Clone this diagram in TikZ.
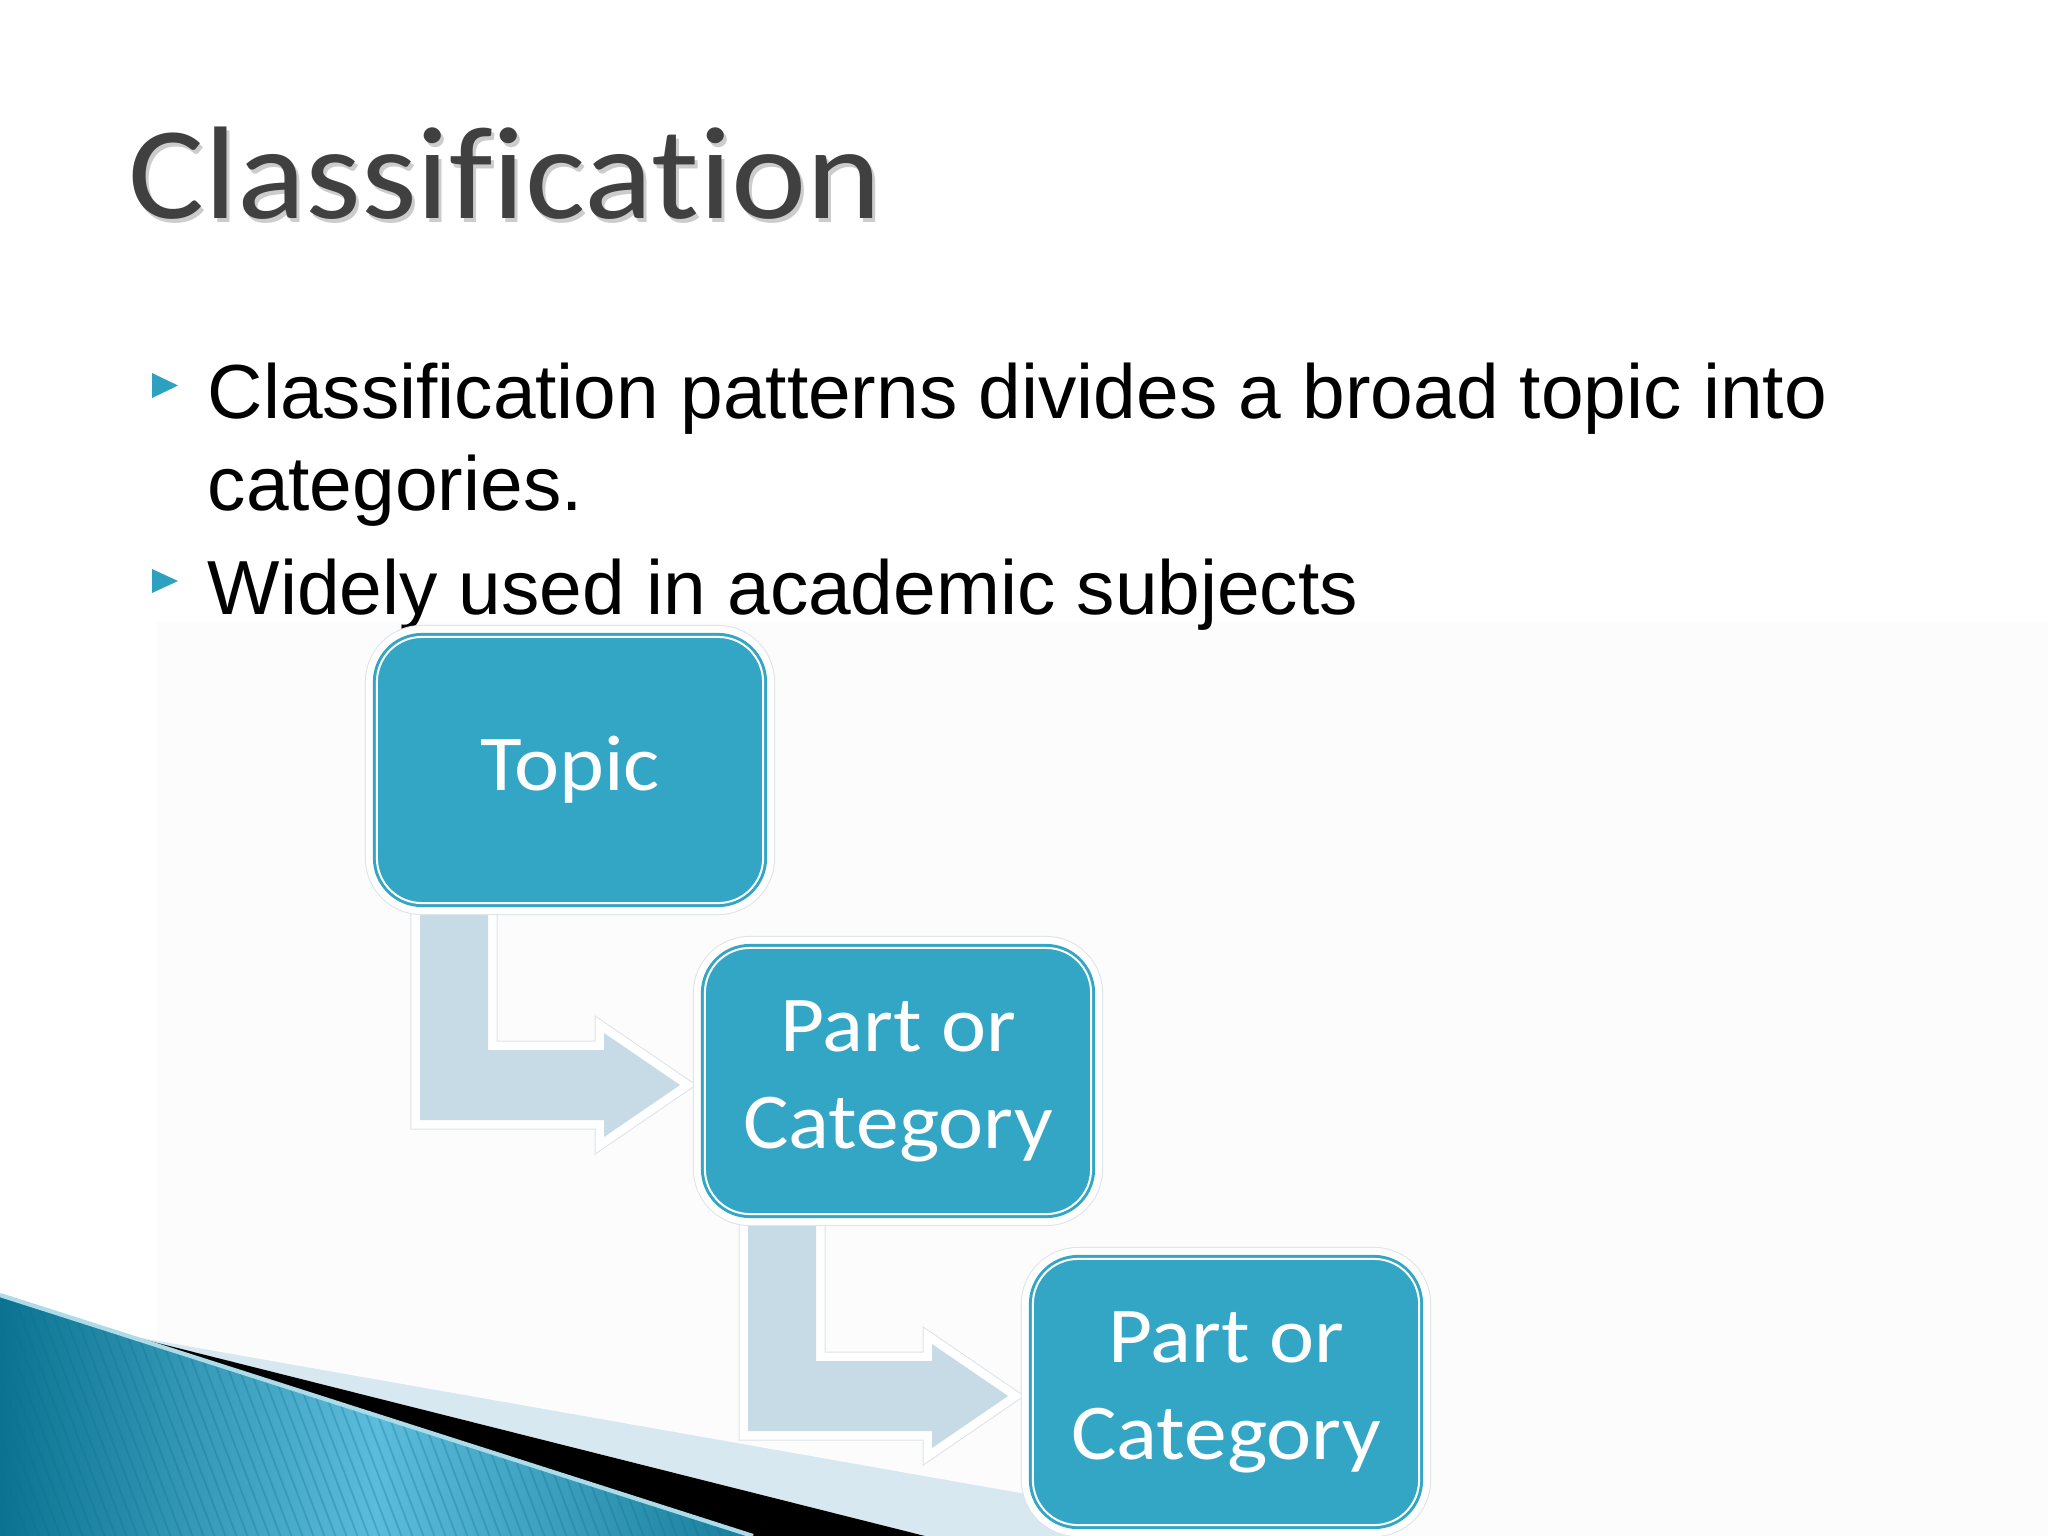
\documentclass[tikz,border=0pt]{standalone}
\usepackage{fontspec}
\setmainfont{Liberation Sans}
\newfontfamily\headfont[FakeStretch=1.08, Ligatures=NoCommon]{Carlito}
\usepackage{tikz}

\definecolor{boxteal}{HTML}{33A6C5}
\definecolor{arrowblue}{HTML}{C6DBE5}
\definecolor{halogray}{HTML}{DDE3E6}
\definecolor{bulletteal}{HTML}{2EA0C0}
\definecolor{titlegray}{HTML}{404040}
\definecolor{bandblue}{HTML}{D7E8F0}
\definecolor{panelgray}{HTML}{FCFCFD}
\definecolor{tealdark}{HTML}{0B7391}
\definecolor{teallight}{HTML}{5CBCDB}

\tikzset{
	catbox/.style={shape=rectangle, rounded corners=0.45cm, fill=boxteal, draw=white,
		line width=0.02cm, minimum width=3.86cm, minimum height=2.66cm, inner sep=0pt,
		align=center, text=white, font=\headfont\fontsize{22.5}{27.6}\selectfont,
		preaction={draw=halogray, line width=0.24cm},
		preaction={draw=white, line width=0.22cm},
		preaction={draw=boxteal, line width=0.08cm}},
	arrowshape/.style={fill=arrowblue,
		preaction={draw=halogray, line width=0.19cm},
		preaction={draw=white, line width=0.17cm}},
	bullettext/.style={anchor=base west, inner sep=0pt, font=\fontsize{21.8}{26}\selectfont}
}

\begin{document}
\begin{tikzpicture}[x=0.01cm, y=-0.01cm]
	\useasboundingbox (0,0) rectangle (2048,1536);
	\fill[white] (0,0) rectangle (2048,1536);
	\fill[panelgray] (157,622) rectangle (2048,1536);

	% bottom left corner
	\fill[bandblue] (130,1336) -- (1264,1536) -- (925,1536) -- cycle;
	\fill[black] (126,1335) -- (925,1536) -- (753,1536) -- cycle;
	\shade[left color=tealdark, right color=tealdark!85!teallight, middle color=teallight]
		(0,1295) -- (753,1536) -- (0,1536) -- cycle;
	\begin{scope}
		\clip (0,1295) -- (753,1536) -- (0,1536) -- cycle;
		\foreach \i in {-9,...,69}
			\draw[tealdark, opacity=0.3, line width=0.5pt] (\i*11,1290) -- ++(95,250);
	\end{scope}
	\draw[white!60!boxteal, line width=1.2pt] (0,1295) -- (753,1536);

	% title and bullets
	\node (titleshadow) at (131,222) [anchor=base west, inner sep=0pt, text=black!20,
		font=\headfont\fontsize{37.5}{45}\selectfont] {Classification};
	\node (title) at (128,218) [anchor=base west, inner sep=0pt, text=titlegray,
		font=\headfont\fontsize{37.5}{45}\selectfont] {Classification};

	\fill[bulletteal] (152,373) -- (178,385.5) -- (152,398) -- cycle;
	\fill[bulletteal] (152,569) -- (178,581) -- (152,593) -- cycle;
	\node (line1) at (207,418) [bullettext] {Classification patterns divides a broad topic into};
	\node (line2) at (207,510) [bullettext] {categories.};
	\node (line3) at (207,614) [bullettext] {Widely used in academic subjects};

	% boxes
	\coordinate (c1) at (570,770);
	\coordinate (c2) at (898,1081);
	\coordinate (c3) at (1226,1392);

	\path[arrowshape, shift={(c1)}] (-150,145) -- (-82,145) -- (-82,280) -- (34,280)
		-- (34,263) -- (110,315) -- (34,367) -- (34,350) -- (-150,350) -- cycle;
	\path[arrowshape, shift={(c2)}] (-150,145) -- (-82,145) -- (-82,280) -- (34,280)
		-- (34,263) -- (110,315) -- (34,367) -- (34,350) -- (-150,350) -- cycle;

	\node (topic) at (c1) [catbox] {Topic};
	\node (part1) at (c2) [catbox] {Part or\\Category};
	\node (part2) at (c3) [catbox] {Part or\\Category};
\end{tikzpicture}
\end{document}
